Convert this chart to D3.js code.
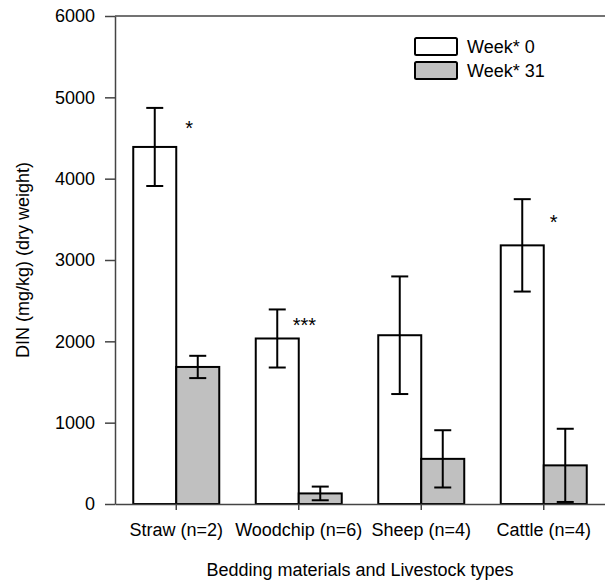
<!DOCTYPE html>
<html>
<head>
<meta charset="utf-8">
<script src="https://cdn.jsdelivr.net/npm/d3@7"></script>
<style>
  html, body { margin: 0; padding: 0; background: #fff; }
  svg text { font-family: "Liberation Sans", Arial, sans-serif; fill: #000; }
</style>
</head>
<body>
<svg id="chart" width="605" height="585"></svg>
<script>
// Bedding / livestock categories
const categories = ["Straw (n=2)", "Woodchip (n=6)", "Sheep (n=4)", "Cattle (n=4)"];
const series = ["Week* 0", "Week* 31"];

// Mean DIN (mg/kg, dry weight)
const week0Means = [4390, 2035, 2075, 3180];
const week31Means = [1685, 130, 555, 475];

// Error bar half-widths
const week0Err = [480, 357, 723, 568];
const week31Err = [137, 84, 352, 450];

// Significance markers (category, label)
const sigCategories = ["Straw (n=2)", "Woodchip (n=6)", "Cattle (n=4)"];
const sigLabels = ["*", "***", "*"];

const yTicks = [0, 1000, 2000, 3000, 4000, 5000, 6000];

const fills = ["#ffffff", "#c0c0c0"];
const axisColor = "#444";

const svg = d3.select("#chart");
const plotLeft = 115, plotRight = 605, plotTop = 16, plotBottom = 504;

const x0 = d3.scaleBand().domain(categories).range([plotLeft, plotRight]).padding(0);
const barW = 43;
const x1 = d3.scaleBand().domain(series)
  .range([x0.bandwidth() / 2 - barW, x0.bandwidth() / 2 + barW]).padding(0);
const y = d3.scaleLinear().domain([0, 6000]).range([plotBottom, plotTop]);

const rows = categories.map((c, i) => ({
  cat: c,
  vals: [
    { s: series[0], v: week0Means[i], e: week0Err[i] },
    { s: series[1], v: week31Means[i], e: week31Err[i] }
  ]
}));

// Bars
const groups = svg.append("g").selectAll("g").data(rows).join("g")
  .attr("transform", d => `translate(${x0(d.cat)},0)`);

groups.selectAll("rect").data(d => d.vals).join("rect")
  .attr("x", d => x1(d.s))
  .attr("y", d => y(d.v))
  .attr("width", x1.bandwidth())
  .attr("height", d => y(0) - y(d.v))
  .attr("fill", (d, i) => fills[i])
  .attr("stroke", "#000")
  .attr("stroke-width", 2);

// Error bars
const capHalf = 8.5;
const eb = groups.selectAll("g.err").data(d => d.vals).join("g").attr("class", "err")
  .attr("stroke", "#000").attr("stroke-width", 2);
eb.append("line")
  .attr("x1", d => x1(d.s) + x1.bandwidth() / 2)
  .attr("x2", d => x1(d.s) + x1.bandwidth() / 2)
  .attr("y1", d => y(d.v + d.e))
  .attr("y2", d => y(Math.max(0, d.v - d.e)));
eb.append("line")
  .attr("x1", d => x1(d.s) + x1.bandwidth() / 2 - capHalf)
  .attr("x2", d => x1(d.s) + x1.bandwidth() / 2 + capHalf)
  .attr("y1", d => y(d.v + d.e)).attr("y2", d => y(d.v + d.e));
eb.append("line")
  .attr("x1", d => x1(d.s) + x1.bandwidth() / 2 - capHalf)
  .attr("x2", d => x1(d.s) + x1.bandwidth() / 2 + capHalf)
  .attr("y1", d => y(Math.max(0, d.v - d.e))).attr("y2", d => y(Math.max(0, d.v - d.e)));

// Top frame line
svg.append("line")
  .attr("x1", plotLeft).attr("x2", plotRight).attr("y1", plotTop).attr("y2", plotTop)
  .attr("stroke", axisColor).attr("stroke-width", 1.5);

// Y axis
const yAxis = svg.append("g").attr("transform", `translate(${plotLeft},0)`)
  .call(d3.axisLeft(y).tickValues(yTicks).tickFormat(d3.format("d"))
    .tickSize(10).tickSizeOuter(0).tickPadding(10));
yAxis.selectAll("path, line").attr("stroke", axisColor).attr("stroke-width", 1.5);
yAxis.selectAll("text").attr("font-size", 18).attr("fill", "#000")
  .style("font-family", "'Liberation Sans', Arial, sans-serif");

// X axis
const xAxis = svg.append("g").attr("transform", `translate(0,${plotBottom})`)
  .call(d3.axisBottom(x0).tickSize(6).tickSizeOuter(0).tickPadding(13));
xAxis.selectAll("path, line").attr("stroke", axisColor).attr("stroke-width", 1.5);
xAxis.selectAll("text").attr("font-size", 18).attr("fill", "#000")
  .style("font-family", "'Liberation Sans', Arial, sans-serif");

// Significance markers, placed just beside the Week 0 error bar tops
const sigDx = [9, -6, 6];
const sigDy = [27, 23, 30];
svg.append("g").selectAll("text").data(sigCategories).join("text")
  .attr("x", (c, i) => x0(c) + x0.bandwidth() / 2 + sigDx[i])
  .attr("y", (c, i) => {
    const k = categories.indexOf(c);
    return y(week0Means[k] + week0Err[k]) + sigDy[i];
  })
  .attr("font-size", 20)
  .text((c, i) => sigLabels[i]);

// Axis titles
svg.append("text")
  .attr("x", (plotLeft + plotRight) / 2).attr("y", 576)
  .attr("text-anchor", "middle").attr("font-size", 18)
  .text("Bedding materials and Livestock types");
svg.append("text")
  .attr("transform", `translate(29,${(plotTop + plotBottom) / 2}) rotate(-90)`)
  .attr("text-anchor", "middle").attr("font-size", 18)
  .text("DIN (mg/kg) (dry weight)");

// Legend
const legend = svg.append("g").selectAll("g").data(series).join("g")
  .attr("transform", (d, i) => `translate(415,${38 + i * 24})`);
legend.append("rect")
  .attr("width", 42).attr("height", 17).attr("rx", 1.5)
  .attr("fill", (d, i) => fills[i]).attr("stroke", "#000").attr("stroke-width", 2);
legend.append("text")
  .attr("x", 52).attr("y", 15).attr("font-size", 18)
  .text(d => d);
</script>
</body>
</html>
